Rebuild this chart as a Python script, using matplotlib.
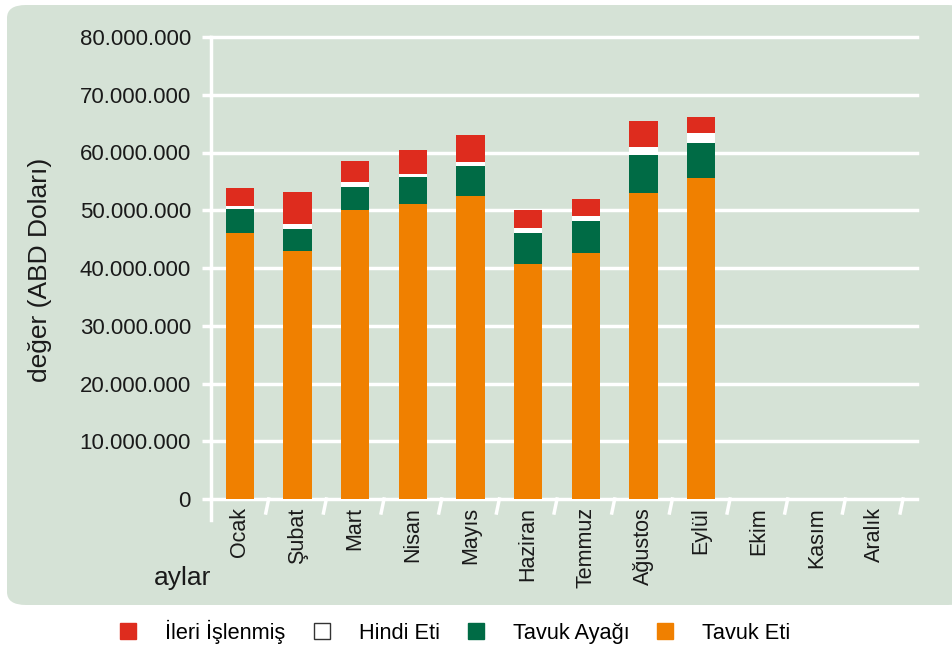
import numpy as np
import matplotlib
matplotlib.use("Agg")
import matplotlib.pyplot as plt
from matplotlib.patches import FancyBboxPatch
from matplotlib.lines import Line2D
from matplotlib.ticker import FuncFormatter
import matplotlib.transforms as mtransforms

plt.rcParams['font.family'] = ['Liberation Sans', 'DejaVu Sans']

# months and series values (USD)
months = ["Ocak", "Şubat", "Mart", "Nisan", "Mayıs", "Haziran", "Temmuz",
          "Ağustos", "Eylül", "Ekim", "Kasım", "Aralık"]
tavuk_eti = [46.1e6, 43.0e6, 50.1e6, 51.1e6, 52.5e6, 40.7e6, 42.6e6, 53.0e6, 55.5e6, 0, 0, 0]
tavuk_ayagi = [4.15e6, 3.8e6, 4.0e6, 4.7e6, 5.2e6, 5.4e6, 5.6e6, 6.65e6, 6.1e6, 0, 0, 0]
hindi_eti = [0.55e6, 0.85e6, 0.85e6, 0.55e6, 0.7e6, 0.85e6, 0.8e6, 1.25e6, 1.7e6, 0, 0, 0]
ileri_islenmis = [3.1e6, 5.55e6, 3.65e6, 4.15e6, 4.7e6, 3.15e6, 3.0e6, 4.5e6, 2.8e6, 0, 0, 0]

c_red = "#de2c1e"
c_white = "#ffffff"
c_green = "#006b45"
c_orange = "#f08000"
bg = "#d5e2d6"

W, H = 953, 649
fig = plt.figure(figsize=(W / 100, H / 100), dpi=100)
fig.patch.set_facecolor("white")

# rounded background panel
panel = FancyBboxPatch((7 / W, 1 - 605 / H), 960 / W, 600 / H,
                       boxstyle="round,pad=0,rounding_size=0.02",
                       transform=fig.transFigure, facecolor=bg,
                       edgecolor="none", zorder=-5)
fig.patches.append(panel)

ax = fig.add_axes([211 / W, 1 - 499 / H, (917 - 211) / W, (499 - 37) / H])
ax.set_facecolor("none")
ax.set_zorder(1)

x = np.arange(len(months))
w = 0.49
b1 = np.array(tavuk_eti)
b2 = b1 + np.array(tavuk_ayagi)
b3 = b2 + np.array(hindi_eti)
ax.bar(x, tavuk_eti, w, color=c_orange, zorder=3)
ax.bar(x, tavuk_ayagi, w, bottom=b1, color=c_green, zorder=3)
ax.bar(x, hindi_eti, w, bottom=b2, color=c_white, zorder=3)
ax.bar(x, ileri_islenmis, w, bottom=b3, color=c_red, zorder=3)

ax.set_ylim(0, 80e6)
ax.set_xlim(-0.5, 11.5 + 14 / 57.7)
ax.set_yticks(np.arange(0, 80e6 + 1, 10e6))
ax.yaxis.set_major_formatter(FuncFormatter(lambda v, p: f"{int(v):,}".replace(",", ".")))
ax.set_axisbelow(True)
ax.grid(axis="y", color="white", linewidth=2.5)
for g in ax.get_ygridlines():
    g.set_clip_on(False)

for s in ["top", "right", "bottom", "left"]:
    ax.spines[s].set_visible(False)

ax.tick_params(axis="y", length=6.5, width=2.5, color="white", pad=8,
               labelsize=16, labelcolor="#1a1a1a")
ax.set_xticks(x)
ax.set_xticklabels(months, rotation=90, fontsize=15.5, color="#1a1a1a", va="top")
ax.tick_params(axis="x", length=0, pad=6)

# vertical axis line extending below zero
trans = mtransforms.blended_transform_factory(ax.transData, ax.transAxes)
ax.plot([-0.5, -0.5], [-21 / 462, 1], color="white", lw=2.5, transform=trans,
        clip_on=False, zorder=2)
# slanted category separators
for k in range(1, 13):
    ax.plot([k - 0.5, k - 0.5 - 0.05], [0, -14 / 462], color="white", lw=2.5,
            transform=trans, clip_on=False, zorder=2)

fig.text(40 / W, 1 - 270 / H, "değer (ABD Doları)", rotation=90, fontsize=19,
         ha="center", va="center", color="#1a1a1a")
fig.text(183 / W, 1 - 578 / H, "aylar", fontsize=19, ha="center", va="center",
         color="#1a1a1a")

handles = [Line2D([], [], marker="s", linestyle="none", markersize=12,
                  markerfacecolor=c, markeredgecolor=("#333333" if c == c_white else c),
                  markeredgewidth=1)
           for c in [c_red, c_white, c_green, c_orange]]
labels = ["İleri İşlenmiş", "Hindi Eti", "Tavuk Ayağı", "Tavuk Eti"]
fig.legend(handles, labels, loc="center", bbox_to_anchor=(454 / W, 1 - 632 / H),
           ncol=4, frameon=False, fontsize=15.7, handlelength=1,
           handletextpad=1.2, columnspacing=1.15)

fig.savefig("out.png", dpi=100, facecolor="white")
